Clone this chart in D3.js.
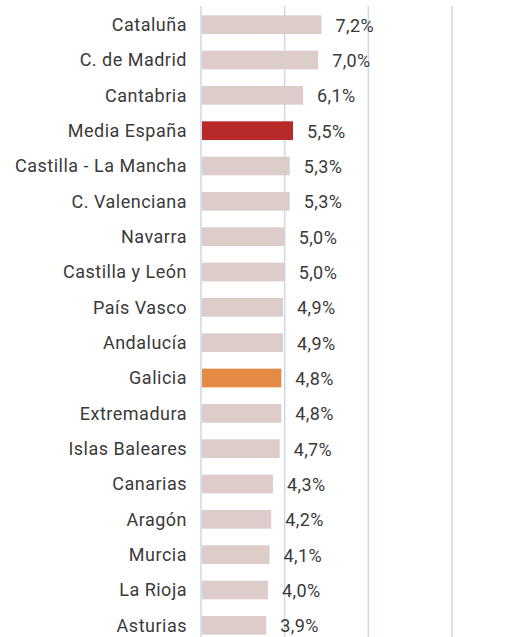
<!DOCTYPE html>
<html>
<head>
<meta charset="utf-8">
<script src="https://cdn.jsdelivr.net/npm/d3@7"></script>
<style>
  body { margin: 0; background: #fff; }
  text { font-family: Roboto, "DejaVu Sans", sans-serif; fill: #3a3a3a; }
</style>
</head>
<body>
<div id="visualization"></div>
<script>
// DATA
const regions = ['Cataluña', 'C. de Madrid', 'Cantabria', 'Media España', 'Castilla - La Mancha',
  'C. Valenciana', 'Navarra', 'Castilla y León', 'País Vasco', 'Andalucía', 'Galicia',
  'Extremadura', 'Islas Baleares', 'Canarias', 'Aragón', 'Murcia', 'La Rioja', 'Asturias']
const values = [7.2, 7.0, 6.1, 5.5, 5.3, 5.3, 5.0, 5.0, 4.9, 4.9, 4.8, 4.8, 4.7, 4.3, 4.2, 4.1, 4.0, 3.9]
const gridTicks = [0, 5, 10, 15]

const dataset = regions.map((r, i) => ({ region: r, value: values[i] }))

//BOX
const w = 527
const h = 637
const left = 201

const fmt = d => d.toFixed(1).replace('.', ',') + '%'

//SCALES
const xScale = d3.scaleLinear()
  .domain([0, 15])
  .range([left, left + 251])

const yScale = d3.scaleBand()
  .domain(regions)
  .range([7, 643])
  .paddingInner(0.47)
  .paddingOuter(0.235)

const color = d => {
  if (d.region === 'Media España') return '#b8292a'
  if (d.region === 'Galicia') return '#e38a44'
  return '#dccdca'
}

const svg = d3.select('#visualization')
  .append('svg')
  .attr('width', w)
  .attr('height', h)

//GRIDLINES
svg.append('g')
  .selectAll('line')
  .data(gridTicks)
  .enter()
  .append('line')
  .attr('x1', d => xScale(d))
  .attr('x2', d => xScale(d))
  .attr('y1', 6)
  .attr('y2', h)
  .attr('stroke', '#c9dcee')
  .attr('stroke-width', 1.6)

//BARS
svg.append('g')
  .selectAll('rect')
  .data(dataset)
  .enter()
  .append('rect')
  .attr('x', xScale(0) + 1)
  .attr('y', d => yScale(d.region))
  .attr('width', d => xScale(d.value) - xScale(0) - 1)
  .attr('height', yScale.bandwidth())
  .attr('fill', color)

//CATEGORY LABELS
svg.append('g')
  .selectAll('text')
  .data(dataset)
  .enter()
  .append('text')
  .attr('x', 187)
  .attr('y', d => yScale(d.region) + yScale.bandwidth() / 2)
  .attr('dy', '0.36em')
  .attr('text-anchor', 'end')
  .style('font-size', '18px')
  .style('letter-spacing', '0.5px')
  .text(d => d.region)

//VALUE LABELS
svg.append('g')
  .selectAll('text')
  .data(dataset)
  .enter()
  .append('text')
  .attr('x', d => xScale(d.value) + 14)
  .attr('y', d => yScale(d.region) + yScale.bandwidth() / 2)
  .attr('dy', '0.38em')
  .style('font-size', '18px')
  .style('letter-spacing', '0.4px')
  .text(d => fmt(d.value))
</script>
</body>
</html>
